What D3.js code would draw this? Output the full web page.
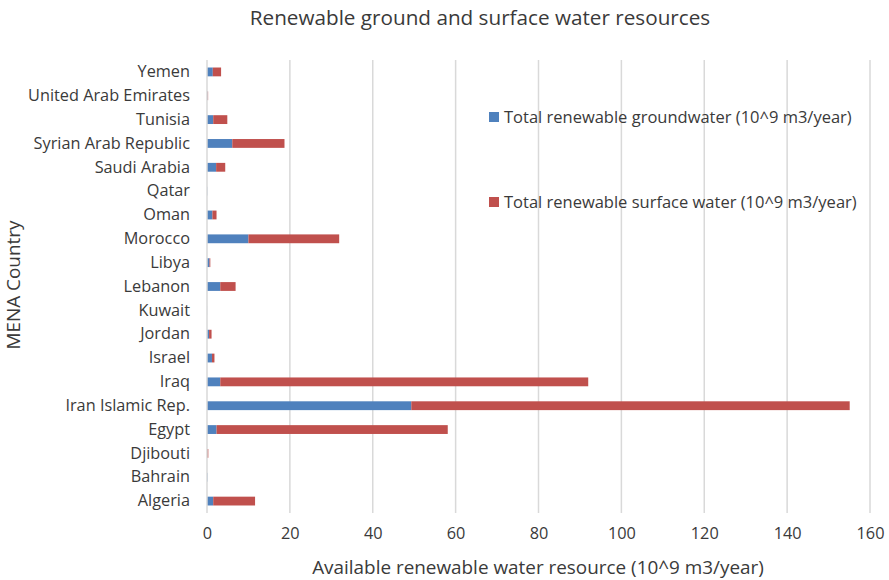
<!DOCTYPE html>
<html>
<head>
<meta charset="utf-8">
<script src="https://cdn.jsdelivr.net/npm/d3@7"></script>
<style>
  html, body { margin: 0; padding: 0; background: #fff; }
  svg { display: block; font-family: "Open Sans", sans-serif; }
</style>
</head>
<body>
<svg id="chart" width="889" height="580"></svg>
<script>
// Countries, listed bottom to top as they appear on the axis
const countries = ["Algeria", "Bahrain", "Djibouti", "Egypt", "Iran Islamic Rep.", "Iraq",
  "Israel", "Jordan", "Kuwait", "Lebanon", "Libya", "Morocco", "Oman", "Qatar",
  "Saudi Arabia", "Syrian Arab Republic", "Tunisia", "United Arab Emirates", "Yemen"];

// Total renewable groundwater (10^9 m3/year)
const groundwater = [1.5, 0.11, 0.02, 2.3, 49.3, 3.2,
  1.2, 0.5, 0.02, 3.2, 0.6, 10.0, 1.3, 0.06,
  2.2, 6.1, 1.5, 0.12, 1.4];

// Total renewable surface water (10^9 m3/year)
const surfaceWater = [10.1, 0.0, 0.3, 55.8, 105.8, 88.8,
  0.6, 0.6, 0.0, 3.7, 0.2, 21.9, 1.0, 0.0,
  2.2, 12.6, 3.4, 0.15, 2.0];

const xTicks = [0, 20, 40, 60, 80, 100, 120, 140, 160];

const seriesNames = ["Total renewable groundwater (10^9 m3/year)",
  "Total renewable surface water (10^9 m3/year)"];
const colors = ["#4F81BD", "#C0504D"];

const FONT = "'Open Sans', sans-serif";
const TEXT = "#3a3a3a";

const svg = d3.select("#chart");

const x = d3.scaleLinear().domain([0, 160]).range([207, 870]);
const y = d3.scaleBand()
  .domain(countries.slice().reverse())
  .range([60, 513])
  .paddingInner(0.63)
  .paddingOuter(0.315);

// Vertical gridlines
svg.append("g")
  .selectAll("line")
  .data(xTicks.filter(d => d > 0))
  .join("line")
  .attr("x1", d => x(d)).attr("x2", d => x(d))
  .attr("y1", 60).attr("y2", 513)
  .attr("stroke", "#d9d9d9").attr("stroke-width", 1.5);

// Legend (no frame, sits over the gridlines)
const legend = svg.append("g");
const legY = [117, 202];
seriesNames.forEach((name, i) => {
  legend.append("rect")
    .attr("x", 489).attr("y", legY[i] - 5).attr("width", 10).attr("height", 10)
    .attr("fill", colors[i]);
  legend.append("text")
    .attr("x", 504).attr("y", legY[i]).attr("dy", "0.35em")
    .attr("font-family", FONT)
    .attr("font-size", 16.5).attr("fill", TEXT)
    .text(name);
});

// Stacked bars
const stackData = countries.map((c, i) => ({ country: c, g: groundwater[i], s: surfaceWater[i] }));
const stacked = d3.stack().keys(["g", "s"])(stackData);

svg.append("g")
  .selectAll("g")
  .data(stacked)
  .join("g")
  .attr("fill", (d, i) => colors[i])
  .selectAll("rect")
  .data(d => d)
  .join("rect")
  .attr("x", d => x(d[0]))
  .attr("y", d => y(d.data.country))
  .attr("width", d => Math.max(0, x(d[1]) - x(d[0])))
  .attr("height", y.bandwidth());

// Category axis line
svg.append("line")
  .attr("x1", x(0)).attr("x2", x(0))
  .attr("y1", 60).attr("y2", 513)
  .attr("stroke", "#d9d9d9").attr("stroke-width", 1.5);

// Category labels
const yAxis = svg.append("g")
  .attr("transform", `translate(${x(0)},0)`)
  .call(d3.axisLeft(y).tickSize(0).tickPadding(17));
yAxis.select(".domain").remove();
yAxis.selectAll("text")
  .attr("font-family", FONT)
  .attr("font-size", 16.3).attr("fill", TEXT);

// Value axis labels
const xAxis = svg.append("g")
  .attr("transform", "translate(0,513)")
  .call(d3.axisBottom(x).tickValues(xTicks).tickSize(0).tickPadding(14));
xAxis.select(".domain").remove();
xAxis.selectAll("text")
  .attr("font-family", FONT)
  .attr("font-size", 16.3).attr("fill", TEXT);

// Title
svg.append("text")
  .attr("x", 480).attr("y", 18).attr("dy", "0.35em")
  .attr("text-anchor", "middle")
  .attr("font-family", FONT)
  .attr("font-size", 20.7).attr("fill", TEXT)
  .text("Renewable ground and surface water resources");

// Axis titles
svg.append("text")
  .attr("x", 538).attr("y", 567).attr("dy", "0.35em")
  .attr("text-anchor", "middle")
  .attr("font-family", FONT)
  .attr("font-size", 18.9).attr("fill", TEXT)
  .text("Available renewable water resource (10^9 m3/year)");

svg.append("text")
  .attr("transform", "translate(13,285) rotate(-90)")
  .attr("dy", "0.35em")
  .attr("text-anchor", "middle")
  .attr("font-family", FONT)
  .attr("font-size", 18.9).attr("fill", TEXT)
  .text("MENA Country");
</script>
</body>
</html>
